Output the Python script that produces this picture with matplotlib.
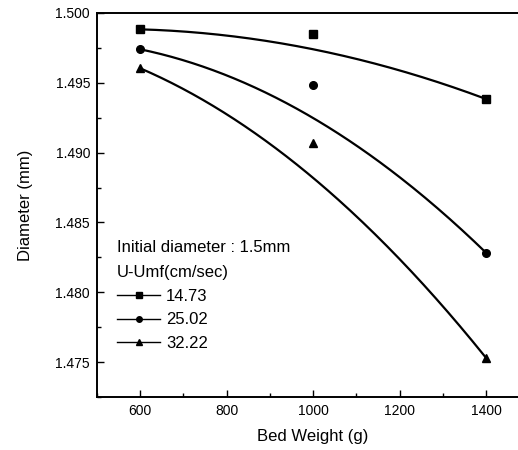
import matplotlib
matplotlib.use("Agg")
import matplotlib.pyplot as plt
import numpy as np
from matplotlib.ticker import MultipleLocator

plt.rcParams['font.family'] = ['Liberation Sans', 'DejaVu Sans']

# Data
bed_weight = [600, 1000, 1400]
d_1473 = [1.49883, 1.49847, 1.49384]
d_2502 = [1.49740, 1.49484, 1.48283]
d_3222 = [1.49604, 1.49071, 1.47530]
labels = ["14.73", "25.02", "32.22"]
markers = ["s", "o", "^"]


def bspline(x, y, n=200):
    # quadratic B-spline (Bezier) through the three points, like Origin's B-spline
    t = np.linspace(0, 1, n)
    x = np.asarray(x, float)
    y = np.asarray(y, float)
    bx = (1 - t) ** 2 * x[0] + 2 * t * (1 - t) * x[1] + t ** 2 * x[2]
    by = (1 - t) ** 2 * y[0] + 2 * t * (1 - t) * y[1] + t ** 2 * y[2]
    return bx, by


fig = plt.figure(figsize=(5.18, 4.5), dpi=100)
ax = fig.add_axes([97 / 518, 53 / 450, 432.3 / 518, 384 / 450])

handles = []
for ys, lab, m in zip([d_1473, d_2502, d_3222], labels, markers):
    ax.plot(bed_weight, ys, linestyle="none", marker=m, color="black", markersize=5.5)
    cx, cy = bspline(bed_weight, ys)
    ax.plot(cx, cy, color="black", lw=1.6)
    h, = ax.plot([], [], color="black", lw=1.0, marker=m, markersize=4, label=lab)
    handles.append(h)

ax.set_xlim(500, 1500)
ax.set_ylim(1.4725, 1.500)
ax.xaxis.set_major_locator(MultipleLocator(200))
ax.xaxis.set_minor_locator(MultipleLocator(100))
ax.yaxis.set_major_locator(MultipleLocator(0.005))
ax.yaxis.set_minor_locator(MultipleLocator(0.0025))
ax.yaxis.set_major_formatter(matplotlib.ticker.FormatStrFormatter("%.3f"))
ax.tick_params(which="both", direction="in", labelsize=10, width=1.0)
ax.tick_params(which="major", length=5, pad=5)
ax.tick_params(which="minor", length=3)
for s in ax.spines.values():
    s.set_linewidth(1.4)

ax.set_xlabel("Bed Weight (g)", fontsize=12, labelpad=8)
ax.set_ylabel("Diameter (mm)", fontsize=12, labelpad=16)

# legend header lines
fig.text(117 / 518, 1 - 248 / 450, "Initial diameter : 1.5mm", fontsize=12, va="center")
fig.text(117 / 518, 1 - 272 / 450, "U-Umf(cm/sec)", fontsize=12, va="center")

leg = ax.legend(handles=handles, loc="upper left",
                bbox_to_anchor=(117 / 518, 1 - 289 / 450),
                bbox_transform=fig.transFigure, frameon=False, fontsize=12,
                borderpad=0, borderaxespad=0, handlelength=2.6, handletextpad=0.35,
                labelspacing=0.5)

plt.savefig("out.png", dpi=100)
plt.close()
